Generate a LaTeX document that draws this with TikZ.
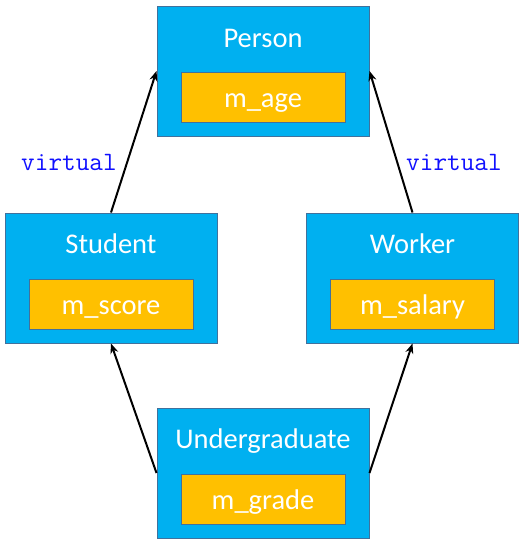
\documentclass[tikz,border=0pt]{standalone}
\usepackage{fontspec}
\setmainfont{Carlito}
\usetikzlibrary{arrows.meta}
\definecolor{classblue}{HTML}{00B0F0}
\definecolor{fieldgold}{HTML}{FFC000}
\definecolor{edgeline}{HTML}{41719C}
\definecolor{kwblue}{HTML}{1010FF}
\tikzset{
  classbox/.style={rectangle, draw=edgeline, fill=classblue, line width=1pt,
    minimum width=212pt, minimum height=130pt, inner sep=0pt},
  fieldbox/.style={rectangle, draw=edgeline, fill=fieldgold, line width=1pt,
    minimum width=164pt, minimum height=50pt, inner sep=0pt,
    text height=20pt, text depth=0pt,
    text=white, font=\fontsize{28.5}{31}\selectfont},
  classname/.style={text=white, inner sep=0pt, anchor=base,
    font=\fontsize{28.5}{31}\selectfont},
  kw/.style={text=kwblue, inner sep=0pt, font=\ttfamily\fontsize{26.5}{29}\selectfont},
  inherit/.style={draw=black, line width=2pt, -{Stealth[length=10pt,width=8pt]}}
}
\begin{document}
\begin{tikzpicture}[x=1pt,y=-1pt]
\useasboundingbox (0,0) rectangle (527,546);

% class boxes
\node[classbox] (person) at (263,71) {};
\node[classname] (personname) at (263,47) {Person};
\node[fieldbox] (personage) at (263,97) {m\_age};

\node[classbox] (student) at (111,278) {};
\node[classname] (studentname) at (111,253) {Student};
\node[fieldbox] (studentscore) at (111,304) {m\_score};

\node[classbox] (worker) at (412.5,278) {};
\node[classname] (workername) at (412.5,253) {Worker};
\node[fieldbox] (workersalary) at (412.5,304) {m\_salary};

\node[classbox] (under) at (263,473) {};
\node[classname] (undername) at (263,448) {Undergraduate};
\node[fieldbox] (undergrade) at (263,499) {m\_grade};

% inheritance arrows
\draw[inherit] (student.north) -- (person.west);
\draw[inherit] (worker.north) -- (person.east);
\draw[inherit] (under.west) -- (student.south);
\draw[inherit] (under.east) -- (worker.south);

% virtual keywords
\node[kw] (kwleft) at (69,162) {virtual};
\node[kw] (kwright) at (454,162) {virtual};
\end{tikzpicture}
\end{document}
